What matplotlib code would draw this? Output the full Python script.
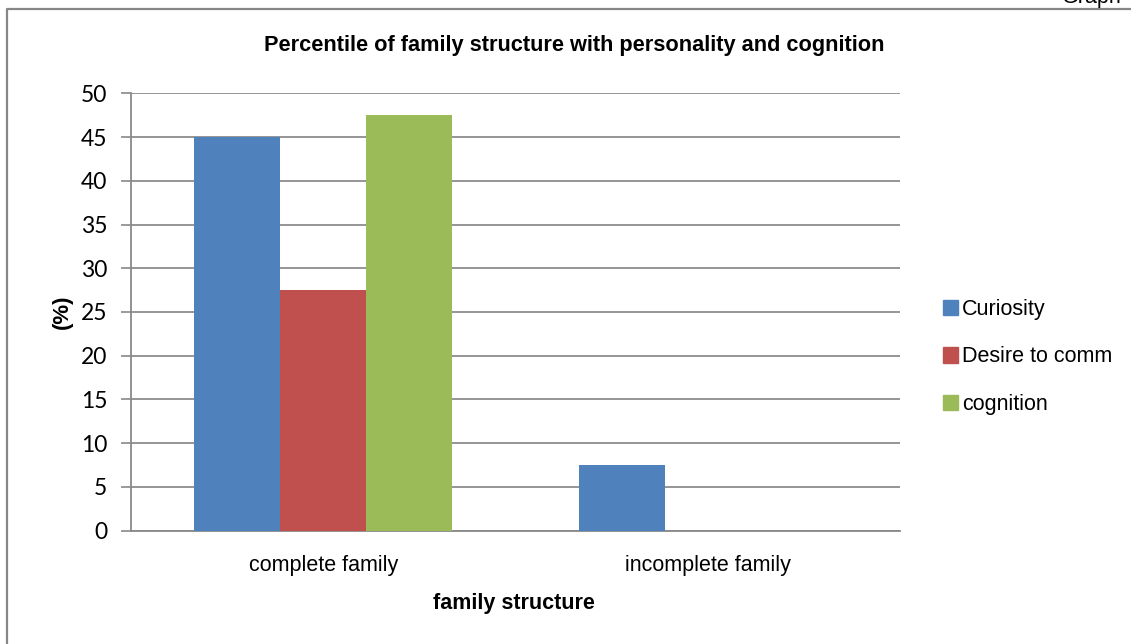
import matplotlib.pyplot as plt
import matplotlib.lines as mlines
import matplotlib.patches as mpatches
import numpy as np

# data
categories = ['complete family', 'incomplete family']
series_names = ['Curiosity', 'Desire to comm', 'cognition']
curiosity = [45, 7.5]
desire_to_comm = [27.5, 0]
cognition = [47.5, 0]
colors = ['#4F81BD', '#C0504D', '#9BBB59']
y_ticks = [0, 5, 10, 15, 20, 25, 30, 35, 40, 45, 50]

W, H = 1131, 644
plt.rcParams['font.family'] = ['Liberation Sans', 'DejaVu Sans']

fig = plt.figure(figsize=(W / 100, H / 100), dpi=100)
ax = fig.add_axes([131 / W, 113.5 / H, 769 / W, 437 / H])

x = np.arange(len(categories))
bw = 0.2237
for i, (vals, c) in enumerate(zip([curiosity, desire_to_comm, cognition], colors)):
    ax.bar(x + (i - 1) * bw, vals, bw, color=c, label=series_names[i], zorder=3)

ax.set_xlim(-0.5, 1.5)
ax.set_ylim(0, 50)
ax.set_yticks(y_ticks)
ax.set_yticklabels([str(v) for v in y_ticks], fontsize=16.5, family=['Lato', 'DejaVu Sans'])
ax.set_xticks(x)
ax.set_xticklabels(categories, fontsize=15.5)
ax.tick_params(axis='x', length=0, pad=18)
ax.tick_params(axis='y', length=7, width=1.2, color='#898989', pad=10)

ax.grid(axis='y', color='#8c8c8c', linewidth=1.3, zorder=0)
for s in ['top', 'right']:
    ax.spines[s].set_visible(False)
for s in ['left', 'bottom']:
    ax.spines[s].set_color('#898989')
    ax.spines[s].set_linewidth(1.3)

fig.text(574 / W, 1 - 46 / H, 'Percentile of family structure with personality and cognition',
         ha='center', va='center', fontsize=15.7, fontweight='bold')
fig.text(514 / W, 1 - 603 / H, 'family structure', ha='center', va='center',
         fontsize=15.5, fontweight='bold')
fig.text(62 / W, 1 - 312 / H, '(%)', ha='center', va='center', rotation=90,
         fontsize=16, fontweight='bold')

handles = [mpatches.Patch(color=c) for c in colors]
fig.legend(handles, series_names, loc='center left', bbox_to_anchor=(934 / W, 1 - 357 / H),
           frameon=False, fontsize=15.5, handlelength=0.7, handleheight=0.7,
           handletextpad=0.2, labelspacing=1.25, borderaxespad=0)

# chart area border and clipped caption at the top right
fig.add_artist(mlines.Line2D([7 / W, 7 / W, 1], [0, 1 - 9 / H, 1 - 9 / H],
                             transform=fig.transFigure, color='#878787', linewidth=1.6))
fig.text(1062 / W, 1 - 3 / H, 'Graph', ha='left', va='baseline', fontsize=15.5)

fig.savefig('out.png', dpi=100)
